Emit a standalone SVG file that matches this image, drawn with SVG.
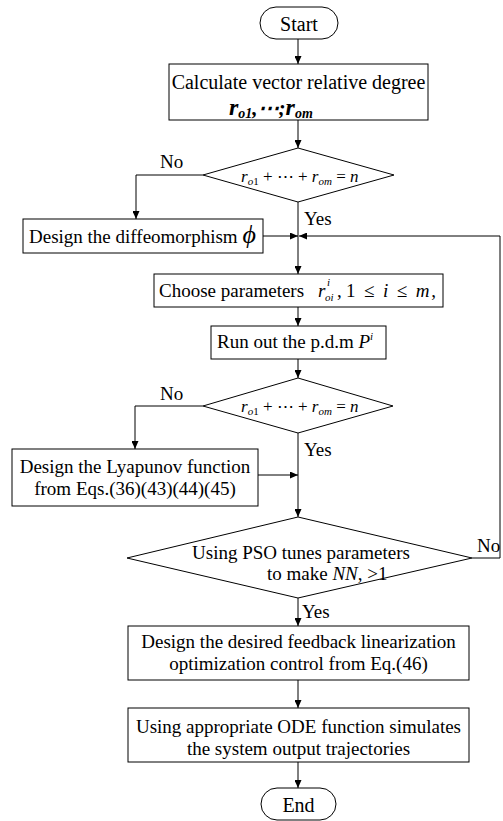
<svg xmlns="http://www.w3.org/2000/svg" width="503" height="821" viewBox="0 0 503 821">
<style>
.box{fill:#fff;stroke:#000;stroke-width:1}
.ln{fill:none;stroke:#000;stroke-width:1}
.t{font-family:"Liberation Serif","Times New Roman",serif;font-size:19px;fill:#000}
.b{font-size:20px}
.c{text-anchor:middle}
.i{font-style:italic}
.m{font-family:"Liberation Serif","Times New Roman",serif;font-size:17px;fill:#000}
.s{font-size:11px}
</style>
<defs>
<marker id="ah" markerUnits="userSpaceOnUse" markerWidth="8" markerHeight="7" refX="8" refY="3.5" orient="auto">
<path d="M0,0 L8,3.5 L0,7 z" fill="#000"/>
</marker>
</defs>
<rect width="503" height="821" fill="#fff"/>
<g id="connectors" class="ln" marker-end="url(#ah)">
<path d="M298,39 V64"/>
<path d="M298,120 V148"/>
<path d="M203,175 H136 V219"/>
<path d="M298,202 V274"/>
<path d="M263,236 H298"/>
<path d="M472,558 H500 V236 H299"/>
<path d="M298,307 V326"/>
<path d="M298,359 V378"/>
<path d="M203,406 H135 V449"/>
<path d="M298,433 V517"/>
<path d="M258,475 H298"/>
<path d="M298,598 V626"/>
<path d="M298,680 V708"/>
<path d="M298,762 V788"/>
</g>
<g id="start">
<rect class="box" x="260" y="7" width="78" height="32" rx="16"/>
<text class="t b c" x="299" y="31">Start</text>
</g>
<g id="calc">
<rect class="box" x="169" y="64" width="259" height="56"/>
<text class="t b c" x="298.5" y="89">Calculate vector relative degree</text>
<text class="t i" x="229" y="115" style="font-size:24px;font-weight:bold">r<tspan style="font-size:14px" dy="3">o1</tspan><tspan dy="-3" style="font-size:21px">,⋯;</tspan>r<tspan style="font-size:14px" dy="3">om</tspan></text>
</g>
<g id="dec1">
<polygon class="box" points="298,148 394,175 298,202 203,175"/>
<text class="m" x="241" y="182"><tspan class="i">r</tspan><tspan class="i s" dy="3">o</tspan><tspan class="s">1</tspan><tspan dy="-3"> + ⋯ + </tspan><tspan class="i">r</tspan><tspan class="i s" dy="3">om</tspan><tspan dy="-3"> = </tspan><tspan class="i">n</tspan></text>
<text class="t" x="160" y="168">No</text>
<text class="t" x="304" y="225">Yes</text>
</g>
<g id="diffeo">
<rect class="box" x="23" y="219" width="240" height="34"/>
<text class="t" x="29" y="243">Design the diffeomorphism <tspan class="i" style="font-size:26px">ϕ</tspan></text>
</g>
<g id="choose">
<rect class="box" x="154" y="274" width="289" height="33"/>
<text class="t" x="159" y="297">Choose parameters</text>
<text class="t i" x="318" y="297">r</text>
<text class="t i s" x="325" y="301">oi</text>
<text class="t i s" x="327" y="286">i</text>
<text class="t" x="337" y="297">,</text>
<text class="t" x="346" y="297" textLength="90">1 ≤ <tspan class="i">i</tspan> ≤ <tspan class="i">m</tspan>,</text>
</g>
<g id="run">
<rect class="box" x="211" y="326" width="175" height="33"/>
<text class="t" x="217" y="348">Run out the p.d.m <tspan class="i">P</tspan><tspan class="i s" dy="-8">i</tspan></text>
</g>
<g id="dec2">
<polygon class="box" points="298,378 393,406 298,433 203,406"/>
<text class="m" x="241" y="412"><tspan class="i">r</tspan><tspan class="i s" dy="3">o</tspan><tspan class="s">1</tspan><tspan dy="-3"> + ⋯ + </tspan><tspan class="i">r</tspan><tspan class="i s" dy="3">om</tspan><tspan dy="-3"> = </tspan><tspan class="i">n</tspan></text>
<text class="t" x="160" y="400">No</text>
<text class="t" x="304" y="456">Yes</text>
</g>
<g id="lyap">
<rect class="box" x="12" y="449" width="246" height="57"/>
<text class="t c" x="135" y="473">Design the Lyapunov function</text>
<text class="t c" x="135" y="495">from Eqs.(36)(43)(44)(45)</text>
</g>
<g id="dec3">
<polygon class="box" points="298,517 472,558 298,598 127,558"/>
<text class="t c" x="301" y="559">Using PSO tunes parameters</text>
<text class="t" x="267" y="580">to make <tspan class="i">NN</tspan>, &gt;1</text>
<text class="t" x="477" y="552">No</text>
<text class="t" x="302" y="618">Yes</text>
</g>
<g id="design">
<rect class="box" x="128" y="626" width="341" height="54"/>
<text class="t c" x="298.5" y="648">Design the desired feedback linearization</text>
<text class="t c" x="298.5" y="670">optimization control from Eq.(46)</text>
</g>
<g id="ode">
<rect class="box" x="128" y="708" width="341" height="54"/>
<text class="t c" x="298.5" y="733">Using appropriate ODE function simulates</text>
<text class="t c" x="298.5" y="755">the system output trajectories</text>
</g>
<g id="end">
<rect class="box" x="261" y="788" width="75" height="32" rx="16"/>
<text class="t b c" x="298.5" y="812">End</text>
</g>
</svg>
